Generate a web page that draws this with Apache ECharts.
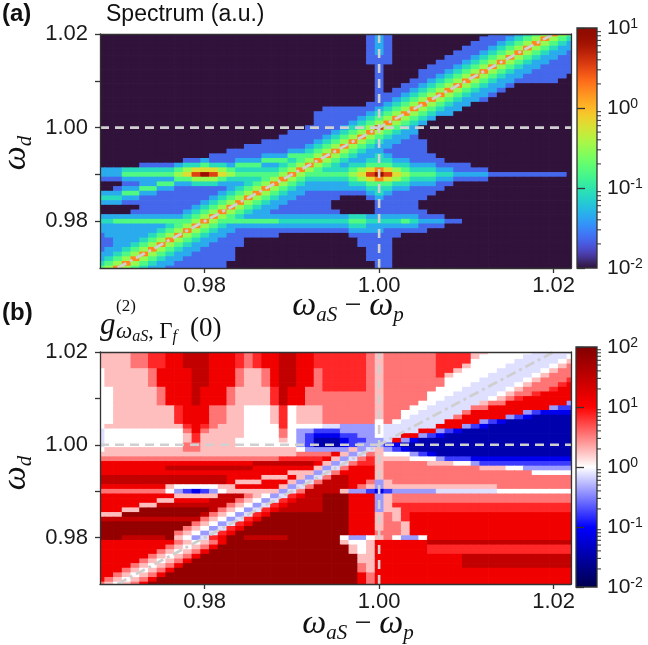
<!DOCTYPE html>
<html><head><meta charset="utf-8">
<script src="https://cdn.jsdelivr.net/npm/echarts@6/dist/echarts.min.js"></script>
<style>html,body{margin:0;padding:0;background:#fff}#c{width:648px;height:645px}</style>
</head><body><div id="c"></div>
<script>
// ---------- data ----------
const X_MIN = 0.968, X_MAX = 1.022, Y_MIN = 0.970, Y_MAX = 1.020;
const CELL_X0 = 0.968, CELL_Y_TOP = 1.020, CELL = 0.001;
const X_TICKS = [0.98, 1.00, 1.02];
const Y_TICKS = [0.98, 0.99, 1.00, 1.01, 1.02];
const Y_LABELS = [0.98, 1.00, 1.02];
const REF_H = 1.00, REF_V = 1.00;
const DIAG = [[0.970, 0.970], [1.020, 1.020]];
const CB_A_EXP = [-2, 1];   // 10^-2 .. 10^1
const CB_B_EXP = [-2, 2];   // 10^-2 .. 10^2

// spectrum (a.u.) level codes
const SPECTRUM_LEVELS = {'0':0.01,'1':0.023,'2':0.046,'3':0.085,'4':0.16,'5':0.32,'6':0.63,'7':1.66,'8':3.3,'9':7.1};
// rows from y=1.020 (top) down to y=0.970, columns x=0.968..1.022
const SPECTRUM_ROWS = [
"0000000000 0000000000 0000000000 0121000000 0000011123 45754",
"0000000000 0000000000 0000000000 0121000000 0000111234 57543",
"0000000000 0000000000 0000000000 0121000000 0001112345 75432",
"0000000000 0000000000 0000000000 0121000000 0011123457 54322",
"0000000000 0000000000 0000000000 0121000000 0111234575 43221",
"0000000000 0000000000 0000000000 0111000000 1112345754 32211",
"0000000000 0000000000 0000000000 0111000001 1123457543 22111",
"0000000000 0000000000 0000000000 0010000011 1234575432 21111",
"0000000000 0000000000 0000000000 0010000111 2345754322 11111",
"0000000000 0000000000 0000000000 0010000112 3457543221 11110",
"0000000000 0000000000 0000000000 0010001123 4575432211 11100",
"0000000000 0000000000 0000000000 0010011234 5754322100 00000",
"0000000000 0000000000 0000000000 0010112345 7543221000 00000",
"0000000000 0000000000 0000000000 0011123457 5432210000 00000",
"0000000000 0000000000 0000000000 0011234575 4322100000 00000",
"0000000000 0000000000 0000000000 0112345754 3220000000 00000",
"0000000000 0000000000 0000001111 1123457543 2200000000 00000",
"0000000000 0000000000 0000011111 1234575432 2000000000 00000",
"0000000000 0000000000 0000011111 2345754320 0000000000 00000",
"0000000000 0000000000 0000011112 3457543200 0000000000 00000",
"0000000000 0000000000 0000111123 4585432000 0000000000 00000",
"0000000000 0000000000 0011111234 5754322000 0000000000 00000",
"0000000000 0000000000 0111112345 7543221000 0000000000 00000",
"0000000000 0000000001 1111123457 5432211100 0000000000 00000",
"0000000000 0000000111 1111234575 4322111100 0000000000 00000",
"0000000000 0000011111 1122345754 3221111100 0000000000 00000",
"0000000000 0001111112 2244457543 2232111110 0000000000 00000",
"0000000000 1121112224 4434575432 2333221111 0000000000 00000",
"0000011112 3343324442 2345754323 3444332221 1110000000 00000",
"2223333334 5666543333 3457543334 5676543332 2111100000 00000",
"2224444445 6898654444 4575444445 6898654443 3222211111 11110",
"1112222224 4555433334 5754333334 5676543332 2111100000 00000",
"0001122442 2333222345 7543222223 3444332221 1000000000 00000",
"0012244221 1111123457 5432222222 2333221111 0000000000 00000",
"2224422111 1111234575 4322111111 1232111110 0000000000 00000",
"3332211111 1112345754 3221111100 0121111100 0000000000 00000",
"2221111111 1123457543 2211111000 0011111000 0000000000 00000",
"0000011111 1234575432 2111111000 0011111000 0000000000 00000",
"0000111111 2345754322 1111111100 0011111100 0000000000 00000",
"2222222222 3457543222 2222222223 3222222111 0000000000 00000",
"3344444444 4575444444 4333333334 4333343222 1100000000 00000",
"2222222234 5754322222 2222222223 3222222111 0000000000 00000",
"2222222345 7543221111 1111111112 2221111100 0000000000 00000",
"1222223457 5432211111 1000000001 1111100000 0000000000 00000",
"1122234575 4322111000 0000000000 1111000000 0000000000 00000",
"1122345754 3221111000 0000000000 1111000000 0000000000 00000",
"1223457543 2211110000 0000000000 0111000000 0000000000 00000",
"2234575432 2111110000 0000000000 0111000000 0000000000 00000",
"2345754322 1111110000 0000000000 0111000000 0000000000 00000",
"3457543221 1111100000 0000000000 0011000000 0000000000 00000",
"4575432211 1111100000 0000000000 0011000000 0000000000 00000"
];

// g2 level codes
const G2_LEVELS = {'0':0.035,'1':0.08,'2':0.17,'3':0.4,'w':0.75,'4':1,'5':1.8,'6':3.5,'7':7,'8':13,'9':30,'A':70};
const G2_ROWS = [
"5555667788 9998887678 8998877777 7656666667 7775544444 wwwww",
"5555667788 9998887678 8998877777 7656666667 777544444w wwww4",
"5555667788 9998887678 8998877777 7656666667 77744444ww www45",
"5555667788 9998887678 8998877777 7656666667 7754444www ww456",
"4555556888 8998886556 8998867777 7656666667 754444wwww w4566",
"4555556888 8998886556 8998867777 7656666667 54444wwwww 45666",
"4555556888 8998886556 8998867777 7656666666 4444wwwww4 56667",
"4555556888 8998886556 8998867777 7656666666 444wwwww45 66678",
"4455555688 8988865555 7988667777 7656666664 44wwwww456 66788",
"4455555688 8988865555 7988666666 6656666644 4wwwww4566 78888",
"4455555688 8988865555 7988666666 6656666644 wwwww45678 88888",
"4455555688 8988865555 7988666666 665666644w wwww566888 88883",
"4455555557 8886655444 5745556666 66566644ww www6688888 88322",
"4455555557 8886655444 5745556666 6656644www ww68888883 21111",
"4455555557 8886655444 5745556666 665664wwww w688888321 00000",
"4455555557 8886655444 5745556666 66464wwwww 8888321000 00000",
"4555555555 7876555444 474444ww33 334wwwwww8 8832100000 00000",
"w444444444 6865555444 4643322233 334wwww883 2100000000 00000",
"w444444444 5755555444 4643211122 334ww88321 0000000000 00000",
"w444444444 5755554444 4543200012 233w831000 0000000000 00000",
"w444444444 6655554444 4443200012 3332100000 0000000000 00000",
"4555555555 6655555555 5554333335 3w53210000 0000000000 00000",
"5555555555 5555555555 5556666853 w654443210 0000000000 00000",
"6666666666 6666666666 677777853w 6755554443 2221111111 11111",
"8888888888 8888888899 99999853w6 7756666655 5443222222 22222",
"8888888899 9999999988 8888853w68 8856666666 6666555443 33333",
"8888888888 8888888888 885553w688 8856666666 6666666666 44444",
"9999999999 9999988885 55853w6998 8856666666 6666666666 66666",
"9999999999 9999985558 8853w69998 8635666666 6666666666 66666",
"8888888854 4444558888 853w699998 6535555555 5555556666 66666",
"6666666643 2123455555 53w6999953 321233333w wwwwww4444 44444",
"8888888885 5555999654 3w7899AAA8 8835666666 6666666666 66666",
"8888888558 8889996543 w78999AAA8 8835666666 6666666666 66666",
"8888855999 999996543w 789999AAA8 8835777777 7777777777 77777",
"88855AAAAA AAA96543w7 899999AAA8 8835577777 7777777777 77777",
"555AAAAAAA AA96543w78 AAAAAAAAA8 8856578888 8888888888 88888",
"9999999999 996543w78A AAAAAAAAA8 8856578888 8888888888 88888",
"AAAAAAAAAA A6543w78AA AAAAAAAAA8 8856658888 8888888888 88888",
"AAAAAAAAAA 6543w78AAA AAAAAAAAA8 8856658888 8888888888 88888",
"AAAAAAAAA6 543w78AAAA AAAAAAAAA8 8866658888 8888888888 88888",
"AAA99999A5 43w78AA999 99AAAAAA43 3456433488 8888888888 88888",
"8888888886 54568AAAAA AAAAAAAA54 4588888899 9999999999 99999",
"8888888865 4568AAAAAA AAAAAAAAA5 4588888877 7777777777 77777",
"8888888654 568AAAAAAA AAAAAAAAA5 4588888877 7777777777 77777",
"8888886545 68AAAAAAAA AAAAAAAAAA 5588888888 8899999999 99999",
"8888865456 8AAAAAAAAA AAAAAAAAAA 5588888888 8899999999 99999",
"8888654568 AAAAAAAAAA AAAAAAAAAA 6588888888 8899999999 99999",
"888654568A AAAAAAAAAA AAAAAAAAAA 6588888888 8888888888 88888",
"88654568AA AAAAAAAAAA AAAAAAAAAA 8688888888 8888888888 88888",
"8654568AAA AAAAAAAAAA AAAAAAAAAA 8688888888 8888888888 88888",
"654568AAAA AAAAAAAAAA AAAAAAAAAA 8688888888 8888888888 88888"
];

// ---------- colormaps ----------
function turbo(t){
  if (t <= 0) return [48,18,59];
  const r = 0.13572138 + t*(4.61539260 + t*(-42.66032258 + t*(132.13108234 + t*(-152.94239396 + t*59.28637943))));
  const g = 0.09140261 + t*(2.19418839 + t*(4.84296658 + t*(-14.18503333 + t*(4.27729857 + t*2.82956604))));
  const b = 0.10667330 + t*(12.64194608 + t*(-60.58204836 + t*(110.36276771 + t*(-89.90310912 + t*27.34824973))));
  const c = v => Math.max(0, Math.min(255, Math.round(v*255)));
  return [c(r), c(g), c(b)];
}
const TURBO = [];
for (let k = 0; k <= 40; k++) { const c = turbo(k/40); TURBO.push('rgb(' + c.join(',') + ')'); }
const SEISMIC = ['#00004c', '#0000ff', '#ffffff', '#ff0000', '#800000'];

// ---------- builders ----------
function cells(rows, levels){
  const out = [];
  rows.forEach((row, j) => {
    const r = row.replace(/ /g, '');
    for (let i = 0; i < r.length; i++) {
      const v = levels[r[i]];
      out.push([CELL_X0 + i*CELL, CELL_Y_TOP - j*CELL, v, Math.log10(v)]);
    }
  });
  return out;
}
function heatSeries(rows, levels, xi, yi){
  return {
    type: 'custom', xAxisIndex: xi, yAxisIndex: yi, z: 1, animation: false,
    dimensions: ['x','y','value','log'], encode: {x: 0, y: 1},
    data: cells(rows, levels),
    renderItem: function(params, api){
      const x = api.value(0), y = api.value(1);
      const x0 = Math.max(x - CELL/2, X_MIN), x1 = Math.min(x + CELL/2, X_MAX);
      const y0 = Math.max(y - CELL/2, Y_MIN), y1 = Math.min(y + CELL/2, Y_MAX);
      const p0 = api.coord([x0, y1]), p1 = api.coord([x1, y0]);
      return {type: 'rect', shape: {x: p0[0], y: p0[1], width: p1[0]-p0[0]+0.7, height: p1[1]-p0[1]+0.7},
              style: {fill: api.visual('color')}};
    }
  };
}
const FONT = "'Liberation Sans', Arial, sans-serif";
const SERIF = "'Liberation Serif', 'Times New Roman', serif";
const AX = {color: '#333', width: 1.3};

function mainAxes(gi){
  return {
    x: [
      {gridIndex: gi, type: 'value', min: X_MIN, max: X_MAX, position: 'bottom', z: 10,
       axisLine: {show: true, onZero: false, lineStyle: AX},
       axisTick: {show: true, customValues: X_TICKS, length: 5, lineStyle: AX},
       axisLabel: {customValues: X_TICKS, formatter: v => v.toFixed(2), fontSize: 22, color: '#1a1a1a', margin: 7, fontFamily: FONT},
       splitLine: {show: false}},
      {gridIndex: gi, type: 'value', min: X_MIN, max: X_MAX, position: 'top', z: 10,
       axisLine: {show: true, onZero: false, lineStyle: AX}, axisTick: {show: false}, axisLabel: {show: false}, splitLine: {show: false}}
    ],
    y: [
      {gridIndex: gi, type: 'value', min: Y_MIN, max: Y_MAX, position: 'left', z: 10,
       axisLine: {show: true, onZero: false, lineStyle: AX},
       axisTick: {show: true, customValues: Y_TICKS, length: 5, lineStyle: AX},
       axisLabel: {customValues: Y_LABELS, formatter: v => v.toFixed(2), fontSize: 22, color: '#1a1a1a', margin: 12, fontFamily: FONT},
       splitLine: {show: false}},
      {gridIndex: gi, type: 'value', min: Y_MIN, max: Y_MAX, position: 'right', z: 10,
       axisLine: {show: true, onZero: false, lineStyle: AX}, axisTick: {show: false}, axisLabel: {show: false}, splitLine: {show: false}}
    ]
  };
}
function cbarAxes(gi, exps){
  return {
    x: {gridIndex: gi, type: 'value', min: 0, max: 1, show: false},
    y: {gridIndex: gi, type: 'value', min: exps[0], max: exps[1], interval: 1, position: 'right', z: 10,
        axisLine: {show: false}, axisTick: {show: true, length: 8, lineStyle: AX},
        splitLine: {show: false},
        axisLabel: {margin: 10, formatter: v => '{b|10}{s|' + (v < 0 ? '-' + Math.abs(v) : v) + '}',
          rich: {b: {fontSize: 21, fontFamily: FONT, color: '#1a1a1a', lineHeight: 20, verticalAlign: 'bottom'},
                 s: {fontSize: 14, fontFamily: FONT, color: '#1a1a1a', lineHeight: 22, verticalAlign: 'top'}}}}
  };
}
function cbarSeries(xi, yi, exps, colors){
  const stops = colors.map((c, k) => ({offset: k/(colors.length-1), color: c}));
  const minors = [];
  for (let n = exps[0]; n < exps[1]; n++) for (let m = 2; m <= 9; m++) minors.push(n + Math.log10(m));
  return {
    type: 'custom', xAxisIndex: xi, yAxisIndex: yi, z: 3, animation: false, silent: true,
    data: [[0, exps[0]]],
    renderItem: function(params, api){
      const p0 = api.coord([0, exps[1]]), p1 = api.coord([1, exps[0]]);
      const ch = [{type: 'rect', shape: {x: p0[0], y: p0[1], width: p1[0]-p0[0], height: p1[1]-p0[1]},
        style: {fill: {type: 'linear', x: 0, y: 1, x2: 0, y2: 0, colorStops: stops}, stroke: '#333', lineWidth: 1.3}}];
      minors.forEach(v => {
        const yy = api.coord([1, v])[1];
        ch.push({type: 'line', shape: {x1: p1[0], y1: yy, x2: p1[0]+4, y2: yy}, style: {stroke: '#333', lineWidth: 1}});
      });
      return {type: 'group', children: ch};
    }
  };
}
function refLines(xi, yi){
  const dash = {color: '#d0d0d0', width: 2.6, type: [9, 6]};
  return [
    {type: 'line', xAxisIndex: xi, yAxisIndex: yi, z: 5, symbol: 'none', silent: true, animation: false,
     data: [[X_MIN, REF_H], [X_MAX, REF_H]], lineStyle: dash},
    {type: 'line', xAxisIndex: xi, yAxisIndex: yi, z: 5, symbol: 'none', silent: true, animation: false,
     data: [[REF_V, Y_MIN], [REF_V, Y_MAX]], lineStyle: dash},
    {type: 'line', xAxisIndex: xi, yAxisIndex: yi, z: 5, symbol: 'none', silent: true, animation: false,
     data: DIAG, lineStyle: {color: '#cfcfcf', width: 2.8, type: [10, 4, 3, 4]}}
  ];
}

const A = mainAxes(0), B = mainAxes(1);
const CA = cbarAxes(2, CB_A_EXP), CBB = cbarAxes(3, CB_B_EXP);

const titleRich = {
  w: {fontFamily: SERIF, fontStyle: 'italic', fontSize: 34, lineHeight: 40, verticalAlign: 'middle', color: '#111'},
  s: {fontFamily: SERIF, fontStyle: 'italic', fontSize: 21, lineHeight: 26, verticalAlign: 'bottom', color: '#111'},
  m: {fontFamily: SERIF, fontSize: 30, lineHeight: 40, verticalAlign: 'middle', color: '#111'}
};
function txt(x, y, text, extra, rot){
  const o = {type: 'text', x: x, y: y, z: 20, silent: true,
    style: Object.assign({text: text, fill: '#111', align: 'left', verticalAlign: 'middle', textAlign: 'left', textVerticalAlign: 'middle'}, extra)};
  if (rot) o.rotation = rot;
  return o;
}
const center = {align: 'center', textAlign: 'center'};

const option = {
  animation: false,
  textStyle: {fontFamily: FONT},
  grid: [
    {left: 100, top: 34, width: 471, height: 234},
    {left: 100, top: 352, width: 471, height: 232},
    {left: 577, top: 28, width: 20, height: 240},
    {left: 576, top: 347, width: 21, height: 240}
  ],
  xAxis: [A.x[0], A.x[1], B.x[0], B.x[1], CA.x, CBB.x],
  yAxis: [A.y[0], A.y[1], B.y[0], B.y[1], CA.y, CBB.y],
  visualMap: [
    {type: 'continuous', show: false, seriesIndex: 0, dimension: 3, min: -2, max: 1, inRange: {color: TURBO}},
    {type: 'continuous', show: false, seriesIndex: 1, dimension: 3, min: -2, max: 2, inRange: {color: SEISMIC}}
  ],
  series: [
    heatSeries(SPECTRUM_ROWS, SPECTRUM_LEVELS, 0, 0),
    heatSeries(G2_ROWS, G2_LEVELS, 2, 2),
    ...refLines(0, 0),
    ...refLines(2, 2),
    cbarSeries(4, 4, CB_A_EXP, TURBO),
    cbarSeries(5, 5, CB_B_EXP, SEISMIC)
  ],
  graphic: [
    txt(2, 14, '(a)', {fontFamily: FONT, fontWeight: 'bold', fontSize: 24}),
    txt(106, 15, 'Spectrum (a.u.)', {fontFamily: FONT, fontSize: 23}),
    txt(2, 313, '(b)', {fontFamily: FONT, fontWeight: 'bold', fontSize: 24}),
    txt(348, 306, '{w|ω}{s|aS}{m| − }{w|ω}{s|p}', Object.assign({rich: titleRich}, center)),
    txt(358, 624, '{w|ω}{s|aS}{m| − }{w|ω}{s|p}', Object.assign({rich: titleRich}, center)),
    txt(16, 153, '{w|ω}{s|d}', Object.assign({rich: titleRich}, center), Math.PI/2),
    txt(16, 473, '{w|ω}{s|d}', Object.assign({rich: titleRich}, center), Math.PI/2),
    // g^(2)_{ω_aS, Γ_f} (0)
    txt(100, 326, 'g', {fontFamily: SERIF, fontStyle: 'italic', fontSize: 31}),
    txt(116, 307, '(2)', {fontFamily: SERIF, fontSize: 17}),
    txt(116, 332, '{w|ω}{s|aS}{c|, }{G|Γ}{s|f}', {rich: {
      w: {fontFamily: SERIF, fontStyle: 'italic', fontSize: 23, lineHeight: 26, verticalAlign: 'middle', color: '#111'},
      s: {fontFamily: SERIF, fontStyle: 'italic', fontSize: 16, lineHeight: 14, verticalAlign: 'bottom', color: '#111'},
      c: {fontFamily: SERIF, fontSize: 22, lineHeight: 26, verticalAlign: 'middle', color: '#111'},
      G: {fontFamily: SERIF, fontSize: 23, lineHeight: 26, verticalAlign: 'middle', color: '#111'}}}),
    txt(190, 329, '(0)', {fontFamily: SERIF, fontSize: 27})
  ]
};
const chart = echarts.init(document.getElementById('c'), null, {renderer: 'canvas'});
chart.setOption(option);
</script></body></html>
